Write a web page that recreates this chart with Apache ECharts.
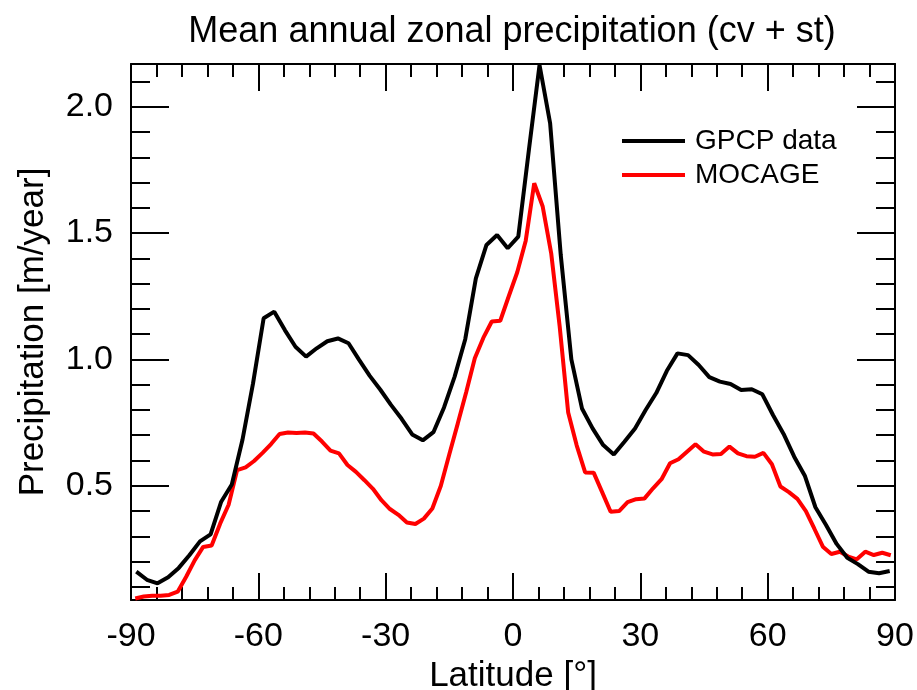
<!DOCTYPE html>
<html>
<head>
<meta charset="utf-8">
<script src="https://cdn.jsdelivr.net/npm/echarts@6/dist/echarts.min.js"></script>
<style>
  html, body { margin:0; padding:0; background:#fff; }
  #chart { width:917px; height:690px; }
</style>
</head>
<body>
<div id="chart"></div>
<script>
// ---- data ----
const gpcpLat = [-88.75,-86.25,-83.75,-81.25,-78.75,-76.25,-73.75,-71.25,-68.75,-66.25,-63.75,-61.25,-58.75,-56.25,-53.75,-51.25,-48.75,-46.25,-43.75,-41.25,-38.75,-36.25,-33.75,-31.25,-28.75,-26.25,-23.75,-21.25,-18.75,-16.25,-13.75,-11.25,-8.75,-6.25,-3.75,-1.25,1.25,3.75,6.25,8.75,11.25,13.75,16.25,18.75,21.25,23.75,26.25,28.75,31.25,33.75,36.25,38.75,41.25,43.75,46.25,48.75,51.25,53.75,56.25,58.75,61.25,63.75,66.25,68.75,71.25,73.75,76.25,78.75,81.25,83.75,86.25,88.75];
const gpcpVal = [0.160,0.128,0.114,0.138,0.175,0.225,0.280,0.308,0.437,0.505,0.681,0.905,1.163,1.189,1.116,1.050,1.011,1.044,1.072,1.083,1.064,0.998,0.935,0.880,0.820,0.765,0.703,0.680,0.712,0.810,0.932,1.080,1.321,1.453,1.492,1.440,1.486,1.830,2.165,1.934,1.413,1.000,0.806,0.727,0.661,0.624,0.674,0.727,0.800,0.867,0.955,1.024,1.017,0.978,0.930,0.912,0.903,0.879,0.882,0.862,0.780,0.705,0.615,0.540,0.415,0.345,0.270,0.215,0.190,0.160,0.154,0.163];
const mocageLat = [-89,-87,-85,-83,-81,-79,-77,-75,-73,-71,-69,-67,-65,-63,-61,-59,-57,-55,-53,-51,-49,-47,-45,-43,-41,-39,-37,-35,-33,-31,-29,-27,-25,-23,-21,-19,-17,-15,-13,-11,-9,-7,-5,-3,-1,1,3,5,7,9,11,13,15,17,19,21,23,25,27,29,31,33,35,37,39,41,43,45,47,49,51,53,55,57,59,61,63,65,67,69,71,73,75,77,79,81,83,85,87,89];
const mocageVal = [0.054,0.062,0.065,0.065,0.068,0.081,0.140,0.205,0.258,0.264,0.350,0.425,0.562,0.573,0.598,0.630,0.665,0.705,0.711,0.709,0.711,0.707,0.675,0.639,0.628,0.582,0.555,0.522,0.488,0.443,0.408,0.385,0.355,0.349,0.370,0.410,0.500,0.625,0.747,0.872,1.005,1.085,1.150,1.153,1.250,1.345,1.470,1.697,1.605,1.420,1.130,0.790,0.660,0.553,0.552,0.475,0.397,0.400,0.435,0.447,0.450,0.490,0.526,0.589,0.605,0.635,0.664,0.635,0.624,0.626,0.655,0.628,0.617,0.615,0.630,0.585,0.497,0.475,0.448,0.400,0.330,0.259,0.230,0.239,0.220,0.209,0.239,0.226,0.235,0.225];
const seriesNames = ['GPCP data', 'MOCAGE'];
const xTicks = [-90,-60,-30,0,30,60,90];
const yMajorTicks = [0.5,1.0,1.5,2.0];
const yMinorTicks = [0.1,0.2,0.3,0.4,0.5,0.6,0.7,0.8,0.9,1.0,1.1,1.2,1.3,1.4,1.5,1.6,1.7,1.8,1.9,2.0,2.1];
const titleText = 'Mean annual zonal precipitation (cv + st)';
const xName = 'Latitude [°]';
const yName = 'Precipitation [m/year]';

// ---- chart ----
const FONT = '"Liberation Sans", Arial, Helvetica, sans-serif';
const YMIN = 0.048, YMAX = 2.169;
const chart = echarts.init(document.getElementById('chart'), null, {renderer:'canvas'});
const lineCol = {color:'#000', width:2};

function yAxisCfg(pos, values, len, showLine, showLabel) {
  return {
    type:'value', position:pos, min:YMIN, max:YMAX,
    axisLine:{show:showLine, onZero:false, lineStyle:lineCol},
    axisTick:{show:true, inside:true, length:len, customValues:values, lineStyle:lineCol},
    axisLabel:showLabel ? {show:true, customValues:yMajorTicks, formatter:v=>Number(v).toFixed(1),
      fontSize:34, color:'#000', fontFamily:FONT, margin:18} : {show:false},
    splitLine:{show:false},
    name: showLabel ? yName : '',
    nameLocation:'middle', nameRotate:90, nameGap:80,
    nameTextStyle:{fontSize:35, color:'#000', fontFamily:FONT}
  };
}
function xAxisCfg(pos, showLabel) {
  return {
    type:'value', position:pos, min:-90, max:90, interval:30,
    axisLine:{show:true, onZero:false, lineStyle:lineCol},
    axisTick:{show:true, inside:true, length:27, lineStyle:lineCol},
    minorTick:{show:true, splitNumber:5, length:13, lineStyle:lineCol},
    axisLabel:showLabel ? {show:true, fontSize:34, color:'#000', fontFamily:FONT, margin:20,
      customValues:xTicks, showMinLabel:true, showMaxLabel:true, hideOverlap:false} : {show:false},
    splitLine:{show:false},
    name: showLabel ? xName : '',
    nameLocation:'middle', nameGap:49,
    nameTextStyle:{fontSize:35, color:'#000', fontFamily:FONT}
  };
}

chart.setOption({
  backgroundColor:'#fff',
  animation:false,
  title:{text:titleText, left:507, textAlign:'center', top:9,
    textStyle:{fontSize:36, fontWeight:'normal', color:'#000', fontFamily:FONT}},
  grid:{left:131, top:64, right:22, bottom:90, containLabel:false, outerBoundsMode:'none'},
  legend:{
    data:seriesNames, orient:'vertical', left:622, top:127, padding:0,
    icon:'rect', itemWidth:63, itemHeight:4, itemGap:6,
    textStyle:{fontSize:28, color:'#000', fontFamily:FONT, lineHeight:28, padding:[0,0,0,5]},
    selectedMode:false
  },
  xAxis:[xAxisCfg('bottom', true), xAxisCfg('top', false)],
  yAxis:[
    yAxisCfg('left', yMajorTicks, 38, true, true),
    yAxisCfg('left', yMinorTicks, 19, false, false),
    yAxisCfg('right', yMajorTicks, 38, true, false),
    yAxisCfg('right', yMinorTicks, 19, false, false)
  ],
  series:[
    {name:seriesNames[0], type:'line', xAxisIndex:0, yAxisIndex:0, symbol:'none',
     data:gpcpLat.map((x,i)=>[x,gpcpVal[i]]), lineStyle:{color:'#000', width:4}, itemStyle:{color:'#000'}, z:3},
    {name:seriesNames[1], type:'line', xAxisIndex:0, yAxisIndex:0, symbol:'none',
     data:mocageLat.map((x,i)=>[x,mocageVal[i]]), lineStyle:{color:'#ff0000', width:4}, itemStyle:{color:'#ff0000'}, z:2}
  ]
});
</script>
</body>
</html>
